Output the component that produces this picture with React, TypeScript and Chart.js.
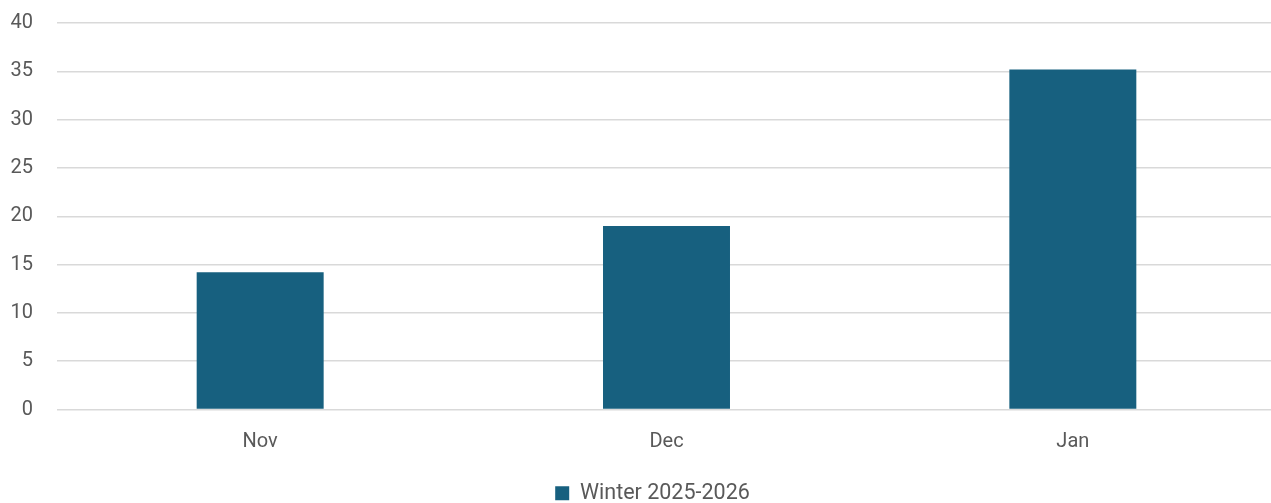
import React, { useEffect, useRef } from "react";
import { Chart, registerables } from "chart.js";

Chart.register(...registerables);

const months = ["Nov", "Dec", "Jan"];
const winterValues = [14.2, 19.0, 35.2];
const seriesLabel = "Winter 2025-2026";
const barColor = "#17607F";
const textColor = "#595959";
const gridColor = "#D9D9D9";
const fontFamily = "Roboto, 'Liberation Sans', Arial, sans-serif";

// Nudges the legend row to the right of the canvas centre.
const legendShift = {
  id: "legendShift",
  afterLayout(chart: any) {
    if (chart.legend) chart.legend.left += 29;
  },
};

export default function App() {
  const canvasRef = useRef<HTMLCanvasElement | null>(null);

  useEffect(() => {
    document.body.style.margin = "0";
    const canvas = canvasRef.current;
    if (!canvas) return;
    const chart = new Chart(canvas, {
      type: "bar",
      data: {
        labels: months,
        datasets: [
          {
            label: seriesLabel,
            data: winterValues,
            backgroundColor: barColor,
            borderWidth: 0,
            categoryPercentage: 1,
            barPercentage: 0.3125,
          },
        ],
      },
      plugins: [legendShift],
      options: {
        responsive: false,
        animation: false,
        maintainAspectRatio: false,
        layout: { padding: { top: 23, right: 0, bottom: 0, left: 0 } },
        plugins: {
          tooltip: { enabled: false },
          legend: {
            position: "bottom",
            labels: {
              boxWidth: 14,
              boxHeight: 14,
              padding: 3,
              color: textColor,
              font: { family: fontFamily, size: 21.5 },
            },
          },
        },
        scales: {
          x: {
            grid: { display: false },
            border: { display: false },
            ticks: {
              color: textColor,
              padding: 12.5,
              font: { family: fontFamily, size: 20 },
            },
            afterFit: (scale: any) => {
              scale.height = 70;
            },
          },
          y: {
            min: 0,
            max: 40,
            ticks: {
              stepSize: 5,
              color: textColor,
              padding: 24,
              font: { family: fontFamily, size: 20 },
            },
            grid: { color: gridColor, lineWidth: 1.5, drawTicks: false },
            border: { display: false },
            afterFit: (scale: any) => {
              scale.width = 57;
              scale.paddingTop = 0;
            },
          },
        },
      },
    });
    return () => chart.destroy();
  }, []);

  return (
    <div style={{ width: 1271, height: 503, overflow: "hidden", background: "#fff" }}>
      <canvas ref={canvasRef} width={1276} height={514} style={{ display: "block" }} />
    </div>
  );
}
